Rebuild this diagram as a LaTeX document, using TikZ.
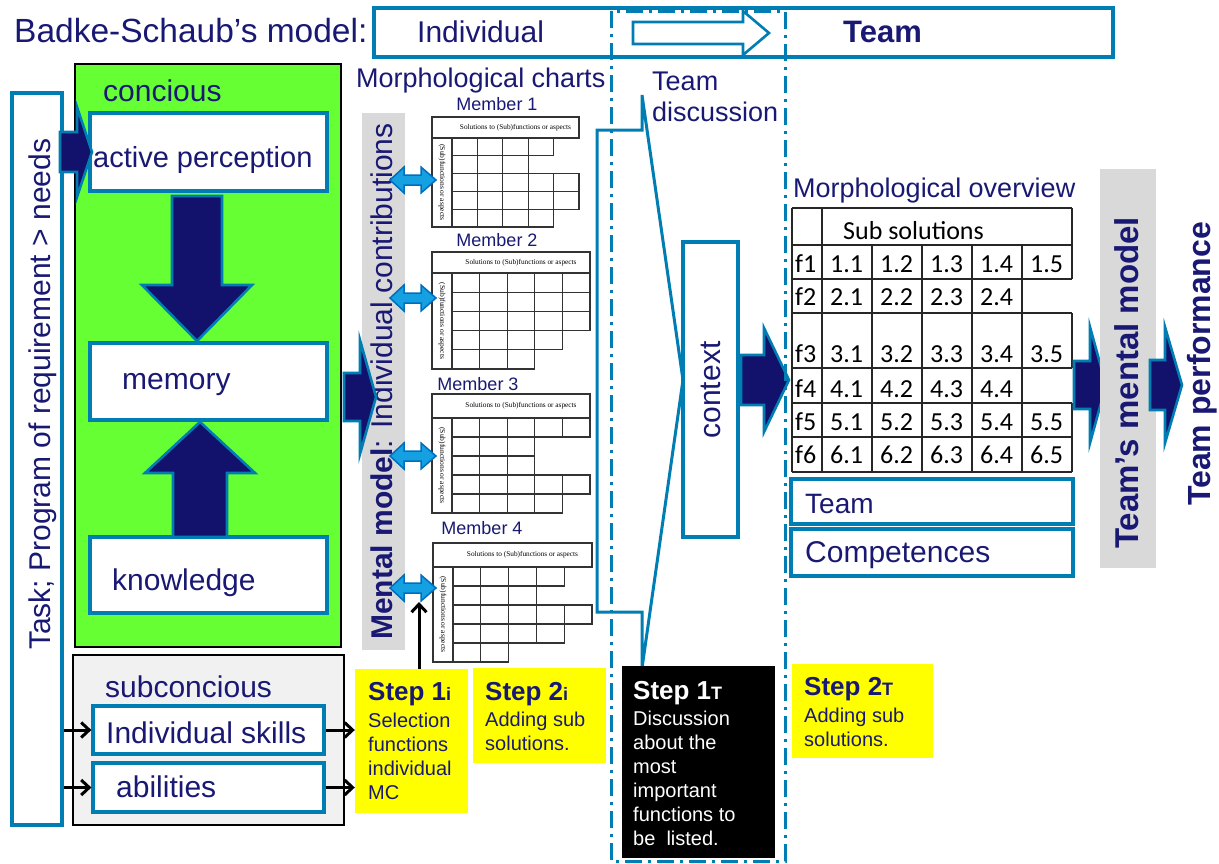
\documentclass[tikz,border=0pt]{standalone}
\usepackage{fontspec}
\setmainfont{Liberation Sans}
\newfontfamily\calib{Carlito}
\newfontfamily\timesf{Liberation Serif}
\usetikzlibrary{arrows.meta,fit}
\definecolor{navy}{RGB}{25,25,115}
\definecolor{bline}{RGB}{0,125,178}
\definecolor{gfill}{RGB}{102,255,51}
\definecolor{gbar}{RGB}{217,217,217}
\definecolor{subfill}{RGB}{241,241,241}
\definecolor{afill}{RGB}{18,17,108}
\definecolor{dfill}{RGB}{20,160,225}
\definecolor{dline}{RGB}{0,110,190}
\definecolor{yel}{RGB}{255,255,0}
\newcommand{\fsz}[1]{\fontsize{#1}{#1}\selectfont}
\newcommand{\blkH}[6]{\filldraw[barrow] (#1,#4-#5) -- (#2,#4-#5) -- (#2,#4-#6) -- (#3,#4) -- (#2,#4+#6) -- (#2,#4+#5) -- (#1,#4+#5) -- cycle;}
\newcommand{\blkV}[6]{\filldraw[barrow] (#4-#5,#1) -- (#4-#5,#2) -- (#4-#6,#2) -- (#4,#3) -- (#4+#6,#2) -- (#4+#5,#2) -- (#4+#5,#1) -- cycle;}
\newcommand{\dblA}[1]{\filldraw[dbl] (390,#1) -- (404,#1-13) -- (404,#1-5) -- (421,#1-5) -- (421,#1-13) -- (436,#1) -- (421,#1+13) -- (421,#1+5) -- (404,#1+5) -- (404,#1+13) -- cycle;}
\newcommand{\mchart}[6]{%
  \pgfmathsetmacro\cw{(#3-#1-20)/5}%
  \draw[chartline] (#1,#2) rectangle (#3,#2+#4);
  \draw[chartline] (#1,#2+#4) rectangle ({#1+20},{#2+#4+5*#5});
  \foreach \n [count=\r from 0] in {#6} {
    \foreach \c in {1,...,\n} {
      \draw[chartline] ({#1+20+(\c-1)*\cw},{#2+#4+\r*#5}) rectangle ++(\cw,#5);
    }
  }
  \node[rotate=-90, font=\timesf\fontsize{7.5}{8}\selectfont, inner sep=0pt] at ({#1+10},{#2+#4+2.5*#5}) {(Sub)functions or aspects};
  \node[font=\timesf\fontsize{7.3}{8}\selectfont, inner sep=0pt] at ({(#1+20+#3)/2},{#2+#4/2}) {Solutions to (Sub)functions or aspects};
}
\tikzset{
  bbox/.style={draw=bline, line width=3.2pt, fill=white, inner sep=0pt},
  barrow/.style={fill=afill, draw=bline, line width=2.6pt, line join=miter},
  dbl/.style={fill=dfill, draw=dline, line width=1.5pt},
  chartline/.style={draw=black!80, line width=1.1pt},
  txt/.style={text=navy, inner sep=0pt},
  tab/.style={draw=black!85, line width=1.3pt},
  tabtxt/.style={inner sep=0pt, anchor=base west, font=\calib\fsz{26}},
  blk/.style={-{Straight Barb[length=8pt,width=15pt,line width=3pt]}, line width=3pt, black},
  ybox/.style={fill=yel, inner sep=0pt},
}
\begin{document}
\begin{tikzpicture}[x=1pt,y=-1pt]
\useasboundingbox (0,0) rectangle (1219,863);

% Task bar
\node[bbox, fit={(12,93) (62,825)}] (taskbox) {};
\node[txt, rotate=90, anchor=base west, font=\fsz{30}] at (50,650) {Task; Program of requirement > needs};

% concious block
\node[draw=black, line width=2.6pt, fill=gfill, inner sep=0pt, fit={(75,64) (341,647)}] (green) {};
\node[txt, anchor=base west, font=\fsz{30}] at (103,101) {concious};
\node[bbox, fit={(90,113) (327,191)}] (ap) {};
\node[txt, anchor=base west, font=\fsz{29}] at (93,167) {active perception};
\node[bbox, fit={(90,343) (327,420)}] (mem) {};
\node[txt, anchor=base west, font=\fsz{30}] at (122,389) {memory};
\node[bbox, fit={(90,537) (327,613)}] (know) {};
\node[txt, anchor=base west, font=\fsz{30}] at (112,590) {knowledge};
\blkV{196}{285}{341}{197}{25}{55}
\blkV{537}{473}{422}{200}{27}{55}
\blkH{60}{77}{92}{152}{20}{45}

% subconcious block
\node[draw=black, line width=2.6pt, fill=subfill, inner sep=0pt, fit={(73,655) (344,825)}] (sub) {};
\node[txt, anchor=base west, font=\fsz{30}] at (105,697) {subconcious};
\node[bbox, fit={(93,706) (324,754)}] (skills) {};
\node[txt, anchor=base west, font=\fsz{30}] at (106,743) {Individual skills};
\node[bbox, fit={(93,763) (324,812)}] (abil) {};
\node[txt, anchor=base west, font=\fsz{30}] at (116,797) {abilities};

% mental model bar
\node[fill=gbar, inner sep=0pt, fit={(362,113) (405,650)}] (mmbar) {};
\node[txt, rotate=90, anchor=base west, font=\fsz{30}] at (392,640) {\textbf{Mental model}: Individual contributions};
\blkH{344}{360}{376}{397}{24}{57}

% morphological charts
\node[txt, anchor=base west, font=\fsz{27}] at (356,87) {Morphological charts};
\node[txt, font=\fsz{18}] (m1) at (497,104) {Member 1};
\node[txt, font=\fsz{18}] (m2) at (497,240) {Member 2};
\node[txt, font=\fsz{18}] (m3) at (478,384) {Member 3};
\node[txt, font=\fsz{18}] (m4) at (482,528) {Member 4};
\mchart{432}{117}{579}{21}{17.8}{4,3,5,5,4}
\mchart{432}{252}{590}{21}{19.2}{5,5,5,4,3}
\mchart{432}{394}{590}{24}{19}{5,3,3,5,4}
\mchart{433}{543}{592}{24}{19}{4,3,5,4,2}
\dblA{180}
\dblA{298}
\dblA{456}
\dblA{588}
\coordinate (d4) at (419,602);

% team discussion funnel
\node[txt, anchor=base west, font=\fsz{27}] at (652,90) {Team};
\node[txt, anchor=base west, font=\fsz{27}] at (652,121) {discussion};
\draw[bline, line width=3pt, line join=miter] (597,130) -- (642,130) -- (642,95) -- (683,380) -- (642,668) -- (642,612) -- (597,612) -- cycle;
\node[bbox, fit={(683,242) (738,537)}] (ctx) {};
\node[txt, rotate=90, font=\fsz{30}] at (711,390) {context};
\blkH{741}{764}{789}{380}{25}{52}

% top header
\node[bbox, fit={(374,8) (1113,57)}] (topbox) {};
\node[txt, anchor=base west, font=\fsz{33.5}] (title) at (14,42) {Badke-Schaub’s model:};
\node[txt, anchor=base west, font=\fsz{30}] at (417,42) {Individual};
\node[txt, anchor=base west, font=\bfseries\fsz{31}] at (843,42) {Team};
\filldraw[fill=white, draw=bline, line width=2.6pt, line join=miter] (633,22) -- (743,22) -- (743,11) -- (769,33) -- (743,55) -- (743,44) -- (633,44) -- cycle;
\draw[bline, line width=3pt, dash pattern=on 17pt off 6pt on 3pt off 6pt] (611,11) rectangle (785,861);

% morphological overview
\node[txt, anchor=base west, font=\fsz{27}] at (793,197) {Morphological overview};
\foreach \yy in {208,245,279,313,368,403,437,472} { \draw[tab] (792,\yy) -- (1072,\yy); }
\draw[tab] (792,208) -- (792,472);
\draw[tab] (822,208) -- (822,472);
\foreach \xx in {872,922,972,1022} { \draw[tab] (\xx,245) -- (\xx,472); }
\draw[tab] (1072,208) -- (1072,279);
\draw[tab] (1072,313) -- (1072,368);
\draw[tab] (1072,403) -- (1072,472);
\node[tabtxt] (subsol) at (843,239) {Sub solutions};
\foreach \r/\yb/\n in {1/272/5, 2/305/4, 3/362/5, 4/397/4, 5/430/5, 6/463/5} {
  \node[tabtxt] (f\r) at (795,\yb) {f\r};
  \foreach \c in {1,...,\n} { \node[tabtxt] at ({830+50*(\c-1)},\yb) {\r.\c}; }
}
\node[bbox, fit={(791,479) (1073,524)}] (teambox) {};
\node[txt, anchor=base west, font=\fsz{28}] at (805,513) {Team};
\node[bbox, fit={(791,529) (1073,576)}] (compbox) {};
\node[txt, anchor=base west, font=\fsz{30}] at (805,562) {Competences};
\blkH{1074}{1090}{1106}{385}{24}{58}
\node[fill=gbar, inner sep=0pt, fit={(1100,169) (1156,568)}] (tmmbar) {};
\node[txt, rotate=90, anchor=base west, font=\bfseries\fsz{33}] at (1138,549) {Team’s mental model};
\blkH{1150}{1165}{1182}{385}{25}{58}
\node[txt, rotate=90, anchor=base west, font=\bfseries\fsz{32}] at (1210,506) {Team performance};

% steps
\node[ybox, fit={(355,669) (468,813)}] (s1i) {};
\node[txt, anchor=base west, font=\bfseries\fsz{26}] at (368,700) {Step 1{\fsz{18}i}};
\node[txt, anchor=north west, align=left, font=\fontsize{20}{24}\selectfont] at (368,712.5) {Selection\\functions\\individual\\MC};
\node[ybox, fit={(473,668) (606,763)}] (s2i) {};
\node[txt, anchor=base west, font=\bfseries\fsz{26}] at (485,700) {Step 2{\fsz{18}i}};
\node[txt, anchor=north west, align=left, font=\fontsize{20}{24}\selectfont] at (485,711.5) {Adding sub\\solutions.};
\node[fill=black, inner sep=0pt, fit={(622,666) (775,858)}] (s1t) {};
\node[text=white, inner sep=0pt, anchor=base west, font=\bfseries\fsz{26}] at (633,699) {Step 1{\fsz{18}T}};
\node[text=white, inner sep=0pt, anchor=north west, align=left, font=\fontsize{20}{24}\selectfont] at (633,710.5) {Discussion\\about the\\most\\important\\functions to\\be\ \ listed.};
\node[ybox, fit={(792,664) (933,758)}] (s2t) {};
\node[txt, anchor=base west, font=\bfseries\fsz{26}] at (804,695) {Step 2{\fsz{18}T}};
\node[txt, anchor=north west, align=left, font=\fontsize{20}{24}\selectfont] at (804,707.5) {Adding sub\\solutions.};

% thin arrows
\draw[blk] (taskbox.east |- skills) -- (skills.west);
\draw[blk] (taskbox.east |- abil) -- (abil.west);
\draw[blk] (skills.east) -- (skills.east -| s1i.west);
\draw[blk] (abil.east) -- (abil.east -| s1i.west);
\draw[blk] (s1i.north -| d4) -- (d4);
\end{tikzpicture}
\end{document}
